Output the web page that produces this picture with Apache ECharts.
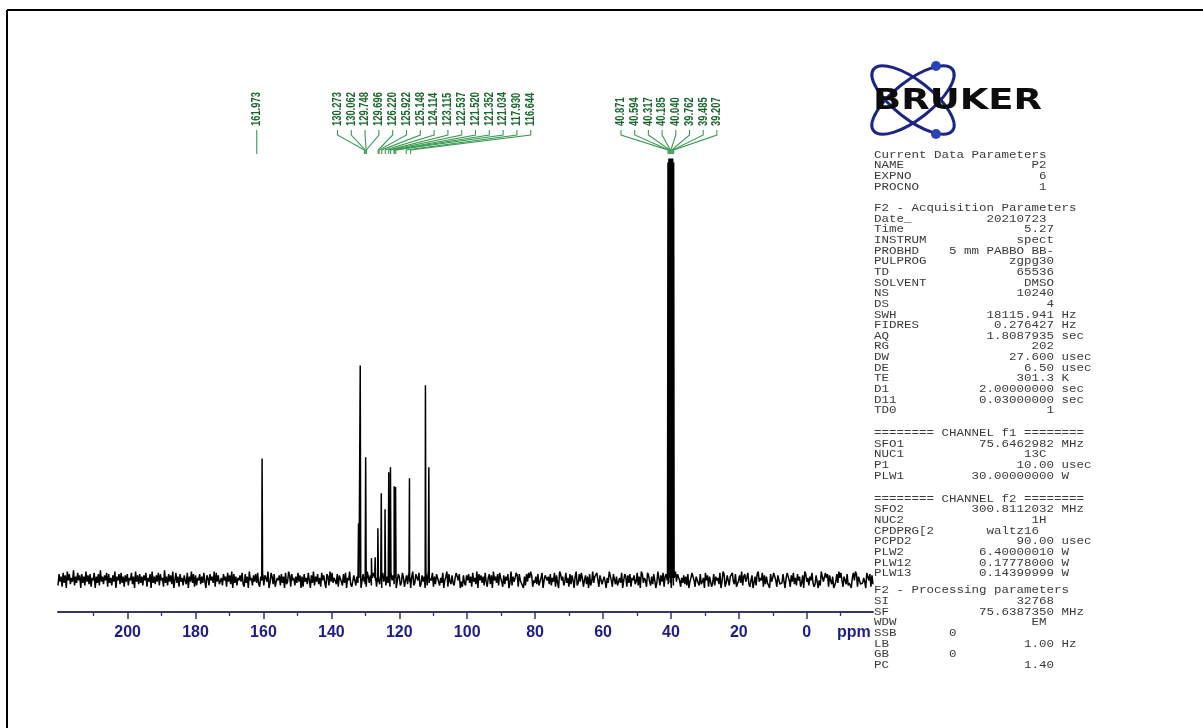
<!DOCTYPE html>
<html>
<head>
<meta charset="utf-8">
<script src="https://cdn.jsdelivr.net/npm/echarts@6/dist/echarts.min.js"></script>
<style>
  html, body { margin: 0; padding: 0; background: #fff; }
  #c { width: 1203px; height: 728px; }
</style>
</head>
<body>
<div id="c"></div>
<script>
// 13C{1H} spectrum, 75 MHz, DMSO

// ppm scale
const axisLabels = [200, 180, 160, 140, 120, 100, 80, 60, 40, 20, 0];
const minorTickPpm = [210, 190, 170, 150, 130, 110, 90, 70, 50, 30, 10, -10];
const ppmLeft = 220.5;
const ppmRight = -19.5;

// resonances (ppm) and their intensities (% of the solvent signal)
const peakPpm = [160.4, 132.0, 131.5, 129.9, 128.2, 127.1, 126.3, 125.3, 124.2, 123.1,
                 122.6, 121.5, 121.1, 117.0, 112.3, 111.3,
                 40.871, 40.594, 40.317, 40.185, 40.040, 39.762, 39.485, 39.207];
const peakIntensity = [28.7, 13.3, 50.8, 29.0, 5.0, 5.2, 12.1, 20.4, 16.6, 25.4,
                       26.6, 22.1, 21.9, 24.0, 46.1, 26.6,
                       99, 100, 100, 100, 100, 100, 100, 99];

// baseline noise, one letter per sample across the sweep ('i' = zero level)
const baselineNoise =
  "dmgkcnflbohmejgpdkfnhlbmfkdoglemcjhnbkfmdpgkelhncmfjdlgobkhmenfkclgmdjhnekbogl" +
  "emfkdlhncjgmbofkelgndmhjcpfkdmgleobhnfkcmgjdlhenbkgofmcldjhmekfngbljdmhkfocngle" +
  "fjdmhkcngleobmfkdjhlgnecmfkbohjdlgmfneckhmdljgobfnkemcgjhldmfkbnegolcmhjdkfnglb" +
  "kcmgjenhblfodkgmejcnhlfbmkdognfjhemclkgdmfnbjhoecglmdkfnjbhmgecokfldjnmhcgkelbn" +
  "gmdkfjcnhleobgmkdfnjchlemgbkodfmjhncelgkbmdofjhnckemlgdjfnbhkocmgelfdjnkhmbgclf" +
  "dlhmfkcngjeobmhlfkdngcjmelbohkfmdnjgclekhmbfodkgjnlcmhfebkdmgnjolchfkemdgjnbhlk" +
  "hkemdjgnclfbomhkdgnfjcmelhbkodfmgnjchlekbmdgofkjnhclmedkgbjfonhcmlekdgjfnbhmkcl" +
  "fmcjhlegndkbomfjhcnlgdkemhbfojdlgnckmhejfbldkogmnhcjflekdmbgjnohcklfdmegjbnhlck" +
  "lcfmdkhjenbgomcflhdkjngemcbhlfodkmgjnechlbfkdmogjhnclekfdbmgjnohclkedfmgbjnkhcl" +
  "gnejdmhkcflbomgjdkhnfcelmbhdokgfnjmclhekbdgmfojnhcklemdfgbjnhomckledfjgbnkhmcle";
const NOISE_UNIT = 0.3;

// peak-pick annotations, grouped as printed
const shiftLabelsA = ['161.973'];
const shiftLabelsB = ['130.273', '130.062', '129.748', '129.696', '126.220', '125.922', '125.148',
                      '124.114', '123.115', '122.537', '121.520', '121.352', '121.034', '117.930', '116.644'];
const shiftLabelsC = ['40.871', '40.594', '40.317', '40.185', '40.040', '39.762', '39.485', '39.207'];

// acquisition / processing parameter listing: [name, value, unit, value end column]
const paramBlocks = [
  { title: 'Current Data Parameters', rows: [
    ['NAME', 'P2', '', 23], ['EXPNO', '6', '', 23], ['PROCNO', '1', '', 23]] },
  { title: 'F2 - Acquisition Parameters', rows: [
    ['Date_', '20210723', '', 23], ['Time', '5.27', '', 24], ['INSTRUM', 'spect', '', 24],
    ['PROBHD', '5 mm PABBO BB-', '', 24], ['PULPROG', 'zgpg30', '', 24], ['TD', '65536', '', 24],
    ['SOLVENT', 'DMSO', '', 24], ['NS', '10240', '', 24], ['DS', '4', '', 24],
    ['SWH', '18115.941', 'Hz', 24], ['FIDRES', '0.276427', 'Hz', 24], ['AQ', '1.8087935', 'sec', 24],
    ['RG', '202', '', 24], ['DW', '27.600', 'usec', 24], ['DE', '6.50', 'usec', 24],
    ['TE', '301.3', 'K', 24], ['D1', '2.00000000', 'sec', 24], ['D11', '0.03000000', 'sec', 24],
    ['TD0', '1', '', 24]] },
  { title: '======== CHANNEL f1 ========', rows: [
    ['SFO1', '75.6462982', 'MHz', 24], ['NUC1', '13C', '', 23], ['P1', '10.00', 'usec', 24],
    ['PLW1', '30.00000000', 'W', 24]] },
  { title: '======== CHANNEL f2 ========', rows: [
    ['SFO2', '300.8112032', 'MHz', 24], ['NUC2', '1H', '', 23], ['CPDPRG[2', 'waltz16', '', 22],
    ['PCPD2', '90.00', 'usec', 24], ['PLW2', '6.40000010', 'W', 24], ['PLW12', '0.17778000', 'W', 24],
    ['PLW13', '0.14399999', 'W', 24]] },
  { title: 'F2 - Processing parameters', rows: [
    ['SI', '32768', '', 24], ['SF', '75.6387350', 'MHz', 24], ['WDW', 'EM', '', 23],
    ['SSB', '0', '', 11], ['LB', '1.00', 'Hz', 24], ['GB', '0', '', 11], ['PC', '1.40', '', 24]] }
];

// ---- assemble the trace: noise samples plus a narrow stick per resonance
const noiseVals = baselineNoise.split('').map(c => (c.charCodeAt(0) - 105) * NOISE_UNIT);
const nPts = noiseVals.length;
const trace = noiseVals.map((v, i) => [ppmLeft - i * (ppmLeft - ppmRight) / (nPts - 1), v]);
const STICK_HALF_WIDTH = 0.15;
peakPpm.forEach((p, i) => {
  trace.push([p + STICK_HALF_WIDTH, 0.3], [p, peakIntensity[i]], [p - STICK_HALF_WIDTH, 0.3]);
});
trace.sort((a, b) => b[0] - a[0]);

const chart = echarts.init(document.getElementById('c'), null, { renderer: 'canvas' });
const AXIS_COLOR = '#35356a';

chart.setOption({
  animation: false,
  backgroundColor: '#ffffff',
  grid: { left: 58, right: 330, top: 150, bottom: 116, containLabel: false },
  xAxis: [
    {
      type: 'value', min: ppmRight, max: ppmLeft, inverse: true, position: 'bottom',
      axisLine: { show: true, onZero: false, lineStyle: { color: AXIS_COLOR, width: 2 } },
      axisTick: { show: true, customValues: axisLabels, length: 7, lineStyle: { color: AXIS_COLOR, width: 1.5 } },
      axisLabel: {
        customValues: axisLabels, color: '#1c1c8a', fontSize: 16, fontWeight: 'bold',
        fontFamily: '"Liberation Sans", Arial, sans-serif', margin: 13
      },
      splitLine: { show: false }
    },
    {
      type: 'value', min: ppmRight, max: ppmLeft, inverse: true, position: 'bottom', offset: 0,
      axisLine: { show: false, onZero: false },
      axisTick: { show: true, customValues: minorTickPpm, length: 4, lineStyle: { color: AXIS_COLOR, width: 1.3 } },
      axisLabel: { show: false },
      splitLine: { show: false }
    }
  ],
  yAxis: { type: 'value', min: -7.8, max: 102, show: false },
  series: [{
    type: 'line',
    data: trace,
    showSymbol: false,
    symbol: 'none',
    sampling: null,
    lineStyle: { color: '#000000', width: 1.5 },
    silent: true
  }]
});

// ---- annotations: peak labels, logo, parameter listing, frame
function buildGraphics() {
  const toX = ppm => chart.convertToPixel({ xAxisIndex: 0 }, ppm);
  const g = [];
  const TEXT_GREEN = '#17662a';
  const LINE_GREEN = '#3a9a52';
  const labelFont = 'bold 12px "Liberation Sans", Arial, sans-serif';

  const groups = [
    { labels: shiftLabelsA, start: null, step: 0 },
    { labels: shiftLabelsB, start: 337.5, step: 13.8 },
    { labels: shiftLabelsC, start: 621, step: 13.7 }
  ];
  groups.forEach(grp => {
    grp.labels.forEach((lab, i) => {
      const px = toX(parseFloat(lab));
      const lx = grp.start === null ? px : grp.start + i * grp.step;
      g.push({
        type: 'text', x: lx, y: 126, rotation: Math.PI / 2, scaleX: 0.78, silent: true,
        style: { text: lab, font: labelFont, fill: TEXT_GREEN, align: 'left', verticalAlign: 'middle' }
      });
      g.push({
        type: 'polyline', silent: true,
        shape: { points: [[lx, 130], [lx, 135], [px, 150], [px, 154]] },
        style: { stroke: LINE_GREEN, lineWidth: 1.1, fill: null }
      });
    });
  });

  // Bruker logo
  const ORBIT = '#1c2584';
  g.push({ type: 'ellipse', x: 913, y: 100, rotation: 38 * Math.PI / 180, silent: true,
           shape: { cx: 0, cy: 0, rx: 50, ry: 19 }, style: { stroke: ORBIT, lineWidth: 3, fill: null } });
  g.push({ type: 'ellipse', x: 913, y: 100, rotation: -38 * Math.PI / 180, silent: true,
           shape: { cx: 0, cy: 0, rx: 50, ry: 19 }, style: { stroke: ORBIT, lineWidth: 3, fill: null } });
  g.push({ type: 'circle', silent: true, shape: { cx: 936, cy: 66, r: 5 }, style: { fill: '#2a43b5' } });
  g.push({ type: 'circle', silent: true, shape: { cx: 936, cy: 134, r: 5 }, style: { fill: '#2a43b5' } });
  g.push({ type: 'text', x: 873, y: 102, scaleX: 1.32, silent: true,
           style: { text: 'BRUKER', font: '900 28px "DejaVu Sans", Arial, sans-serif', fill: '#0d0d0d',
                    align: 'left', verticalAlign: 'middle' } });

  // parameter listing
  const blockTop = [155, 208.3, 433.3, 499, 590.7];
  const LINE_H = 10.65;
  const monoFont = '12.5px "Liberation Mono", "DejaVu Sans Mono", monospace';
  const fmtRow = (name, val, unit, endCol) => {
    const pad = Math.max(1, endCol - name.length - val.length);
    return name + ' '.repeat(pad) + val + (unit ? ' ' + unit : '');
  };
  paramBlocks.forEach((blk, bi) => {
    const lines = [blk.title].concat(blk.rows.map(r => fmtRow(r[0], r[1], r[2], r[3])));
    lines.forEach((ln, li) => {
      g.push({ type: 'text', x: 874, y: blockTop[bi] + li * LINE_H, scaleY: 0.82, silent: true,
               style: { text: ln, font: monoFont, fill: '#3a3a3a', align: 'left', verticalAlign: 'middle' } });
    });
  });

  // axis unit
  g.push({ type: 'text', x: 837, y: 633, silent: true,
           style: { text: 'ppm', font: 'bold 16px "Liberation Sans", Arial, sans-serif', fill: '#1c1c8a',
                    align: 'left', verticalAlign: 'middle' } });

  // frame
  g.push({ type: 'line', silent: true, shape: { x1: 7, y1: 10, x2: 1203, y2: 10 },
           style: { stroke: '#000', lineWidth: 2 } });
  g.push({ type: 'line', silent: true, shape: { x1: 7, y1: 10, x2: 7, y2: 728 },
           style: { stroke: '#000', lineWidth: 2 } });

  chart.setOption({ graphic: g });
}
buildGraphics();
</script>
</body>
</html>
